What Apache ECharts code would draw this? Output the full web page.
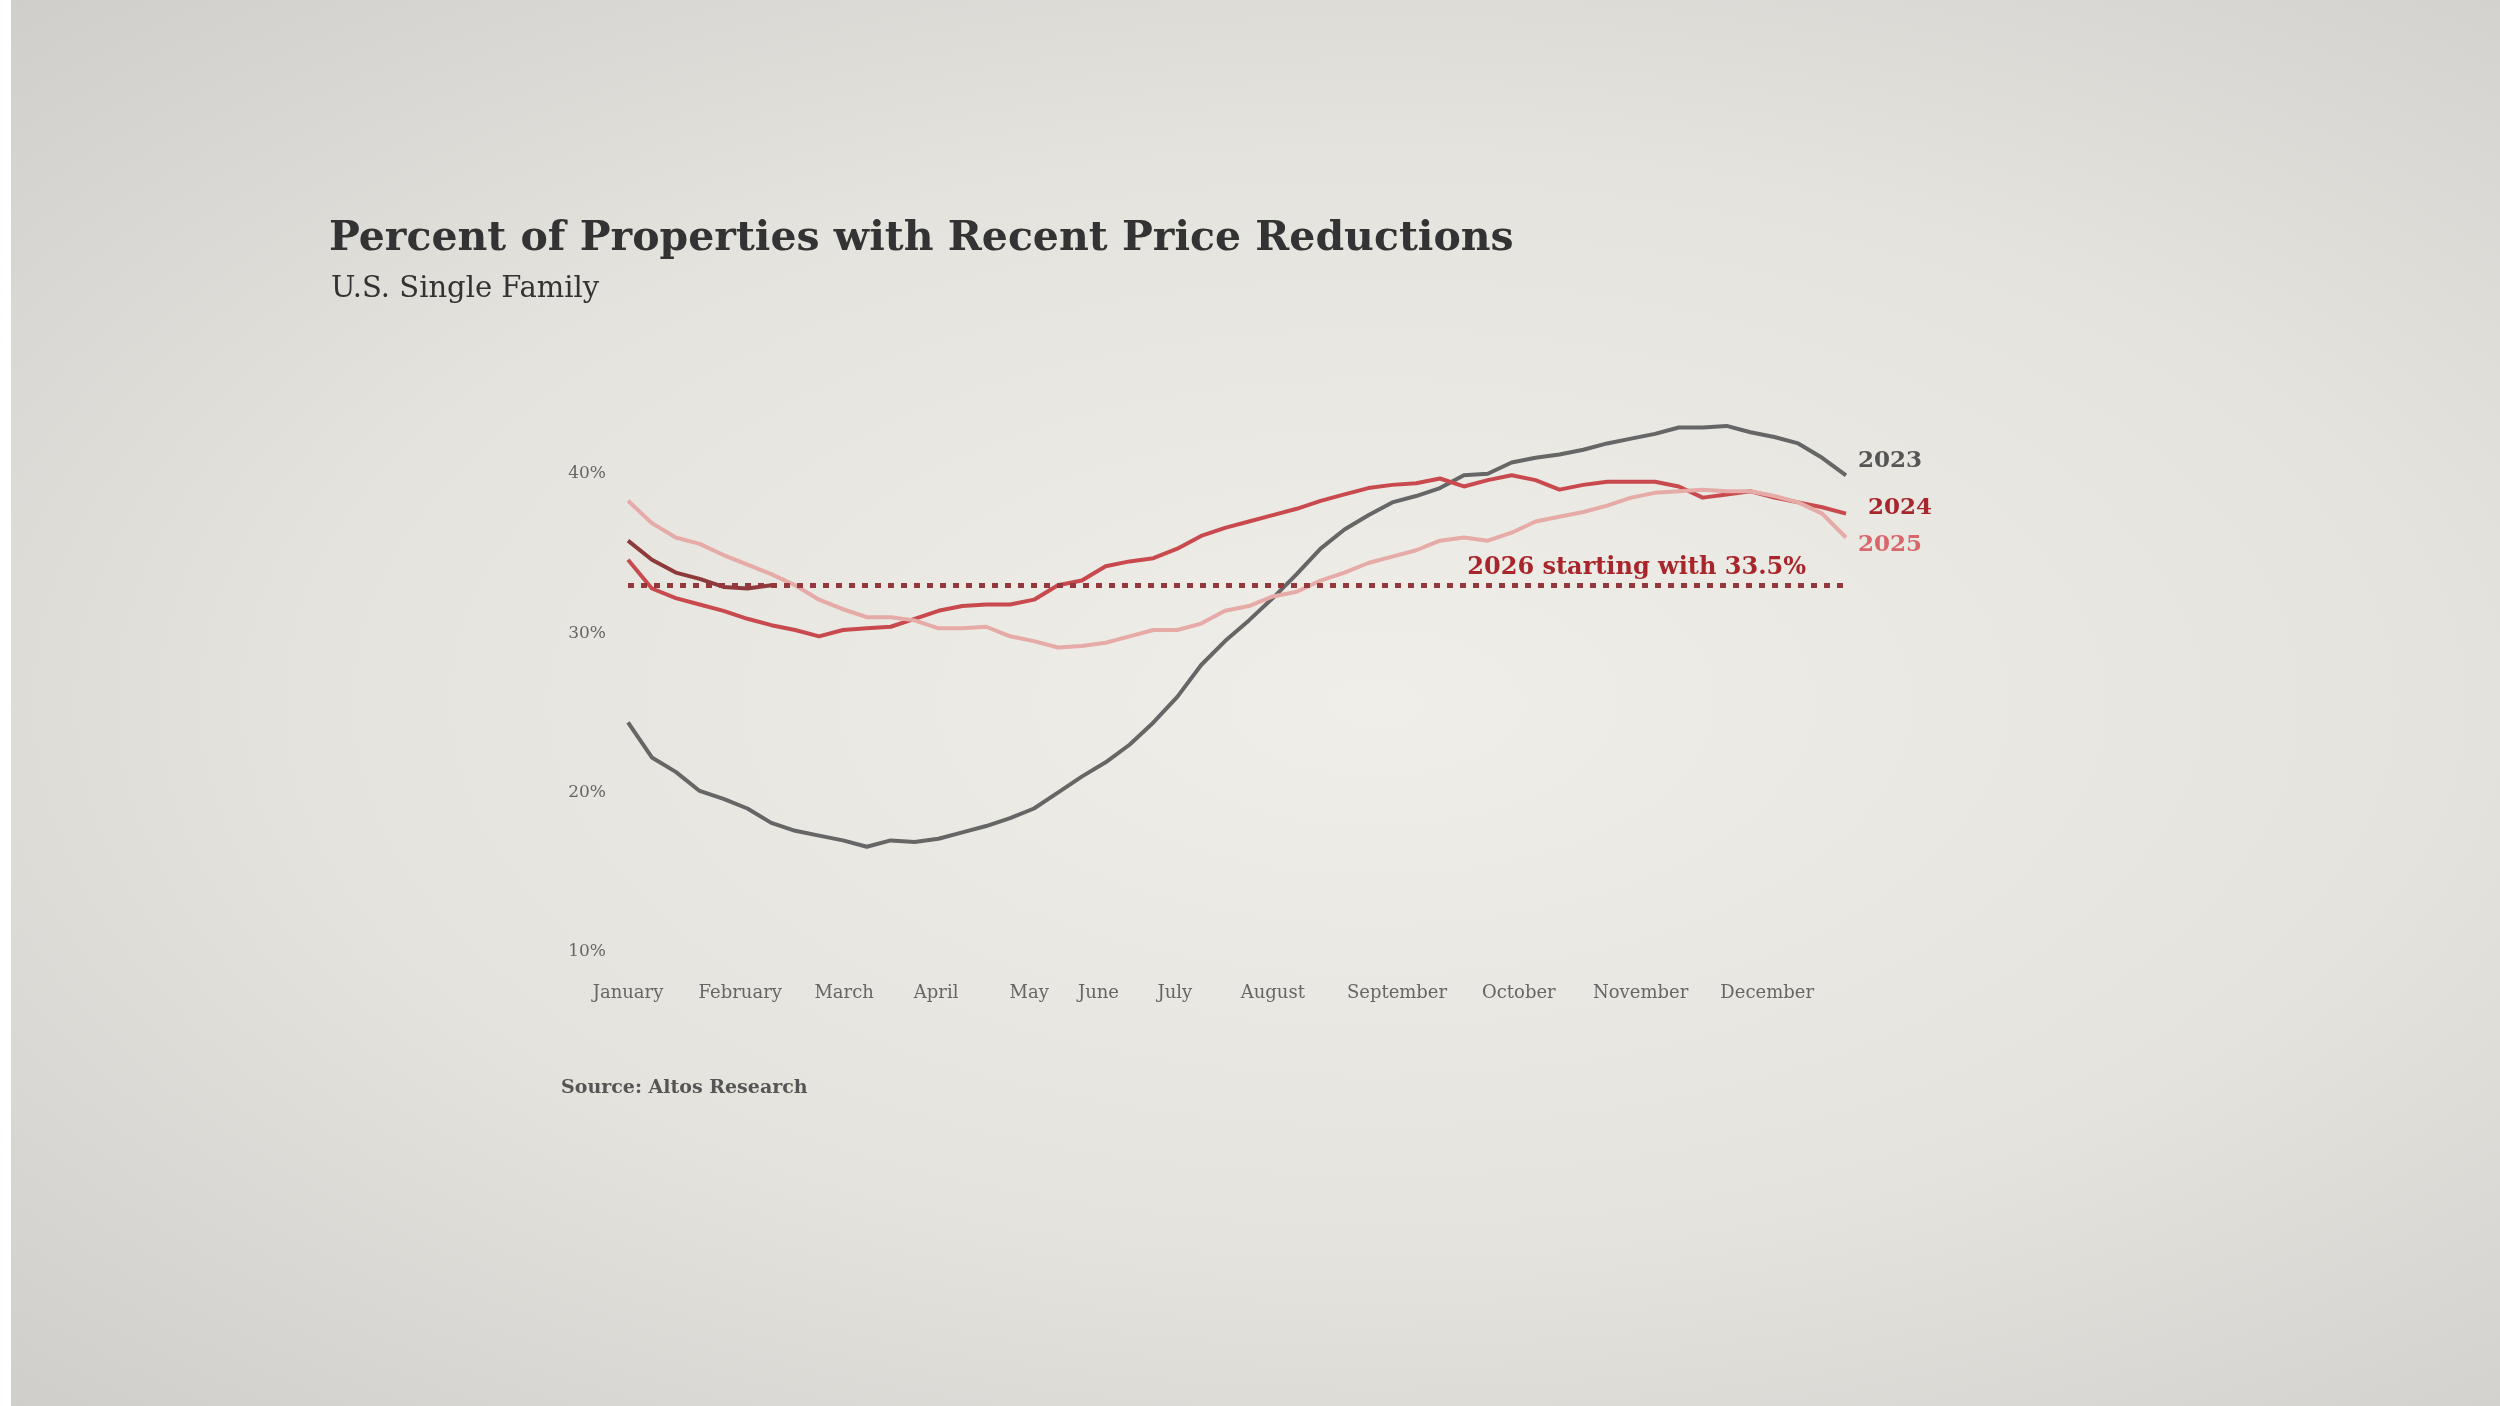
<!DOCTYPE html>
<html style="height: 100%">
<head>
    <meta charset="utf-8">
    <title>Percent of Properties with Recent Price Reductions</title>
</head>
<body style="height: 100%; margin: 0; background: radial-gradient(ellipse at 55% 50%, #efeee8 0%, #e4e3dd 55%, #cfcecb 100%); border-left: 11px solid #fff; box-sizing: border-box;">
    <div id="container" style="height: 100%; margin-left: -11px"></div>
    <script src="https://cdn.jsdelivr.net/npm/echarts@6/dist/echarts.min.js"></script>
    <script type="text/javascript">
        // weekly values, week 0 = first week of January
        var months = ['January', 'February', 'March', 'April', 'May', 'June', 'July', 'August', 'September', 'October', 'November', 'December'];
        var monthPos = [0, 4.7, 9.05, 12.9, 16.8, 19.7, 22.9, 27, 32.2, 37.3, 42.4, 47.7];
        var yTicks = [10, 20, 30, 40];
        var y2023 = [24.4, 22.2, 21.3, 20.1, 19.6, 19.0, 18.1, 17.6, 17.3, 17.0, 16.6, 17.0, 16.9, 17.1, 17.5, 17.9, 18.4, 19.0, 20.0, 21.0, 21.9, 23.0, 24.4, 26.0, 28.0, 29.5, 30.8, 32.2, 33.7, 35.3, 36.5, 37.4, 38.2, 38.6, 39.1, 39.9, 40.0, 40.7, 41.0, 41.2, 41.5, 41.9, 42.2, 42.5, 42.9, 42.9, 43.0, 42.6, 42.3, 41.9, 41.0, 39.9];
        var y2024 = [34.6, 32.8, 32.2, 31.8, 31.4, 30.9, 30.5, 30.2, 29.8, 30.2, 30.3, 30.4, 30.9, 31.4, 31.7, 31.8, 31.8, 32.1, 33.0, 33.3, 34.2, 34.5, 34.7, 35.3, 36.1, 36.6, 37.0, 37.4, 37.8, 38.3, 38.7, 39.1, 39.3, 39.4, 39.7, 39.2, 39.6, 39.9, 39.6, 39.0, 39.3, 39.5, 39.5, 39.5, 39.2, 38.5, 38.7, 38.9, 38.5, 38.2, 37.9, 37.5];
        var y2025 = [38.3, 36.9, 36.0, 35.6, 34.9, 34.3, 33.7, 33.0, 32.1, 31.5, 31.0, 31.0, 30.8, 30.3, 30.3, 30.4, 29.8, 29.5, 29.1, 29.2, 29.4, 29.8, 30.2, 30.2, 30.6, 31.4, 31.7, 32.3, 32.6, 33.3, 33.8, 34.4, 34.8, 35.2, 35.8, 36.0, 35.8, 36.3, 37.0, 37.3, 37.6, 38.0, 38.5, 38.8, 38.9, 39.0, 38.9, 38.9, 38.6, 38.2, 37.5, 36.0];
        var y2026 = [35.8, 34.6, 33.8, 33.4, 32.9, 32.8, 33.0];
        var start2026 = 33.0;

        function pairs(arr) {
            return arr.map(function (v, i) { return [i, v]; });
        }

        var serif = '"DejaVu Serif", "Liberation Serif", serif';
        var dom = document.getElementById("container");
        var myChart = echarts.init(dom);
        var option = {
            animation: false,
            title: [{
                text: 'Percent of Properties with Recent Price Reductions',
                left: 324, top: 214,
                textStyle: { fontFamily: serif, fontSize: 41, fontWeight: 'bold', color: '#333', letterSpacing: 3.2 }
            }, {
                text: 'U.S. Single Family',
                left: 326, top: 270,
                textStyle: { fontFamily: serif, fontSize: 29, fontWeight: 'normal', color: '#333', letterSpacing: 1 }
            }, {
                text: 'Source: Altos Research',
                left: 556, top: 1074,
                textStyle: { fontFamily: serif, fontSize: 19, fontWeight: 'bold', color: '#555', letterSpacing: 1.5 }
            }],
            grid: { left: 628, right: 654, top: 394, bottom: 454 },
            xAxis: {
                type: 'value', min: 0, max: 51,
                axisLine: { show: false }, axisTick: { show: false }, splitLine: { show: false },
                axisLabel: {
                    customValues: monthPos,
                    formatter: function (v) {
                        var i = monthPos.indexOf(v);
                        return i >= 0 ? months[i] : '';
                    },
                    margin: 32, fontFamily: serif, fontSize: 18, color: '#666', letterSpacing: 1.5
                }
            },
            yAxis: {
                type: 'value', min: 10, max: 45,
                axisLine: { show: false }, axisTick: { show: false }, splitLine: { show: false },
                axisLabel: {
                    customValues: yTicks,
                    formatter: '{value}%',
                    margin: 22, fontFamily: serif, fontSize: 17, color: '#666', letterSpacing: 1
                }
            },
            series: [{
                name: '2023', type: 'line', data: pairs(y2023), symbol: 'none',
                lineStyle: { color: '#666666', width: 4 },
                endLabel: { show: true, formatter: '{a}', offset: [4, -14], fontFamily: serif, fontSize: 23, fontWeight: 'bold', color: '#555' }
            }, {
                name: '2024', type: 'line', data: pairs(y2024), symbol: 'none',
                lineStyle: { color: '#c94a4e', width: 4 },
                endLabel: { show: true, formatter: '{a}', offset: [14, -6], fontFamily: serif, fontSize: 23, fontWeight: 'bold', color: '#a8262b' }
            }, {
                name: '2025', type: 'line', data: pairs(y2025), symbol: 'none',
                lineStyle: { color: '#e6aaa7', width: 4 },
                endLabel: { show: true, formatter: '{a}', offset: [4, 8], fontFamily: serif, fontSize: 23, fontWeight: 'bold', color: '#d9666b' }
            }, {
                name: '2026', type: 'line', data: pairs(y2026), symbol: 'none',
                lineStyle: { color: '#8e3a3a', width: 4 },
                markLine: {
                    silent: true, symbol: 'none',
                    lineStyle: { color: '#94383b', width: 5, type: [6, 7] },
                    label: {
                        show: true, position: 'insideEndTop', formatter: '2026 starting with 33.5%',
                        distance: [40, 6], fontFamily: serif, fontSize: 24, fontWeight: 'bold', color: '#a8262b', letterSpacing: 0.3
                    },
                    data: [[{ coord: [0, start2026] }, { coord: [51, start2026] }]]
                }
            }]
        };
        myChart.setOption(option, true);
    </script>
</body>
</html>
